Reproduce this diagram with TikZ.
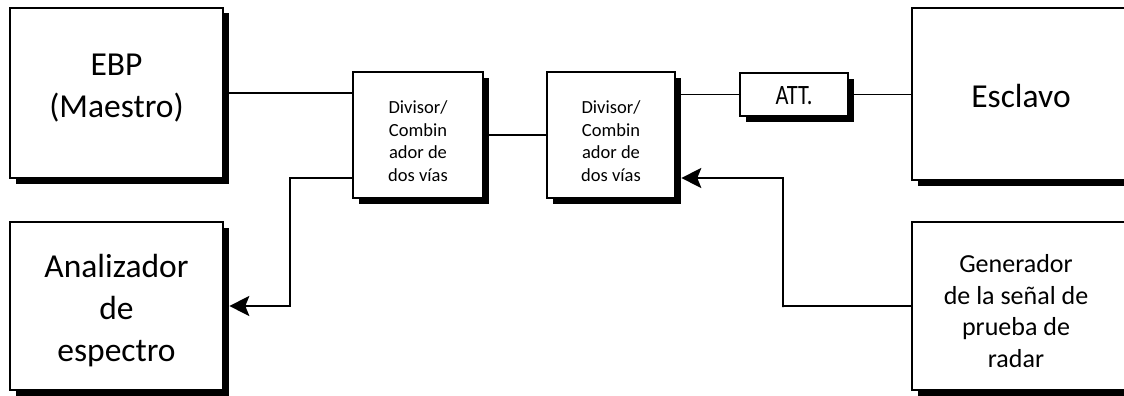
\documentclass[tikz,border=0pt]{standalone}
\usepackage{fontspec}
\setmainfont{Carlito}
\usetikzlibrary{shadows,arrows.meta,calc}
\begin{document}
\begin{tikzpicture}[
  blk/.style={draw=black,line width=1.6pt,fill=white,inner sep=0pt,align=center,
    drop shadow={shadow xshift=5.5pt,shadow yshift=-5.5pt,fill=black,opacity=1}},
  big/.style={font=\fontsize{33.5}{42}\selectfont},
  mid/.style={font=\fontsize{26}{31.5}\selectfont},
  small/.style={font=\fontsize{18.5}{22.5}\selectfont},
  wire/.style={line width=1.8pt},
  arr/.style={wire,-{Stealth[length=20pt,width=20pt,inset=4pt]}}]
\begin{scope}[x=1pt,y=-1pt]
\useasboundingbox (0,0) rectangle (1124,396);
\node[blk,minimum width=213pt,minimum height=170pt] (ebp) at (116.5,93) {};
\node[big,align=center] at (116.5,88) {EBP\\(Maestro)};
\node[blk,minimum width=213pt,minimum height=168pt] (ana) at (116.5,306) {};
\node[big,align=center] at (116.5,311) {Analizador\\de\\espectro};
\node[blk,minimum width=130pt,minimum height=126pt] (div1) at (418,135) {};
\node[small,align=center] at (418,141) {Divisor/\\Combin\\ador de\\dos vías};
\node[blk,minimum width=128pt,minimum height=126pt] (div2) at (611,135) {};
\node[small,align=center] at (611,141) {Divisor/\\Combin\\ador de\\dos vías};
\node[blk,minimum width=108pt,minimum height=43pt] (att) at (794,94.5) {};
\node[font=\fontsize{28}{30}\selectfont] at (794,96) {\scalebox{0.8}[1]{ATT.}};
\node[blk,minimum width=228pt,minimum height=172pt] (esc) at (1026,94) {};
\node[big] at (1021,96) {Esclavo};
\node[blk,minimum width=228pt,minimum height=168pt] (gen) at (1026,306) {};
\node[mid,align=center] at (1016,311) {Generador\\de la señal de\\prueba de\\radar};
\coordinate (c1) at (290,178);
\coordinate (c2) at (783,307);
\end{scope}
\draw[wire] (ebp.east) -- (div1.west |- ebp.east);
\draw[wire] (div1.east) -- (div2.west);
\draw[wire] (att.west -| div2.east) -- (att.west);
\draw[wire] (att.east) -- (esc.west |- att.east);
\draw[arr] (div1.west |- c1) -- (c1) |- ([xshift=5.5pt]ana.east);
\draw[arr] (gen.west) -| (c2) |- ([xshift=5.5pt]div2.east |- c1);
\end{tikzpicture}
\end{document}
